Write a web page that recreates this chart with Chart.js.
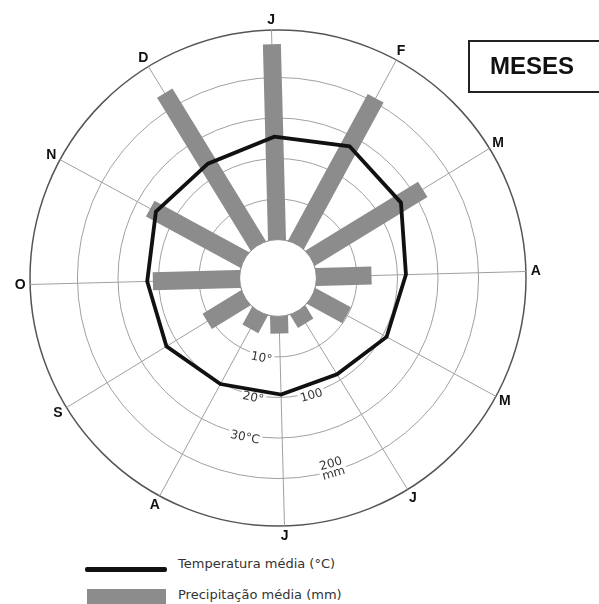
<!DOCTYPE html>
<html>
<head>
<meta charset="utf-8">
<title>Climograma</title>
<script src="https://cdn.jsdelivr.net/npm/chart.js@4.4.1/dist/chart.umd.min.js"></script>
<style>
  html, body { margin: 0; padding: 0; background: #fff; }
  body { width: 599px; height: 604px; position: relative; overflow: hidden; font-family: "DejaVu Sans", sans-serif; }
  #grafico { position: absolute; left: 8px; top: 8px; }
  .meses { position: absolute; left: 468px; top: 40px; width: 140px; height: 49px; border: 2px solid #222; }
  .meses span { position: absolute; left: 20px; top: 12px; font: bold 24px "Liberation Sans", Arial, sans-serif; line-height: 24px; color: #111; }
  .leg-linha { position: absolute; left: 85px; top: 567px; width: 82px; height: 5px; background: #111; border-radius: 2px; }
  .leg-barra { position: absolute; left: 87px; top: 589px; width: 79px; height: 16px; background: #8c8c8c; }
  .leg-txt { position: absolute; left: 178px; font-size: 13px; line-height: 16px; color: #333; white-space: nowrap; }
</style>
</head>
<body>
<canvas id="grafico" width="540" height="540"></canvas>
<div class="meses"><span>MESES</span></div>
<div class="leg-linha"></div>
<div class="leg-txt" style="top:556px">Temperatura média (°C)</div>
<div class="leg-barra"></div>
<div class="leg-txt" style="top:587px">Precipitação média (mm)</div>
<script>
const meses = ['J', 'F', 'M', 'A', 'M', 'J', 'J', 'A', 'S', 'O', 'N', 'D'];
const temperatura = [25.4, 27.5, 26.1, 22.1, 21.0, 18.4, 19.3, 20.3, 22.8, 22.8, 24.8, 23.6]; // °C
const precipitacao = [241, 205, 162, 68, 49, 18, 21, 24, 55, 107, 132, 220]; // mm

// anéis da escala
const ticksTemp = [10, 20, 30];
const rotulosTemp = ['10°', '20°', '30°C'];
const ticksChuva = [100, 200];
const rotulosChuva = [['100'], ['200', 'mm']];

const MM_POR_GRAU = 5;        // 100 mm ocupa o mesmo raio que 20 °C
const R_MIN = -9.47;          // valor no centro do círculo
const R_MAX = 51.7;           // valor no círculo externo
const corBarra = '#8c8c8c';

const climaPlugin = {
  id: 'clima',
  beforeDatasetsDraw(chart) {
    const r = chart.scales.r;
    const ctx = chart.ctx;
    ctx.save();

    // barras de precipitação
    const meta = chart.getDatasetMeta(1);
    ctx.strokeStyle = corBarra;
    ctx.lineWidth = 18;
    ctx.lineCap = 'butt';
    meta.data.forEach((pt, i) => {
      const base = r.getPointPositionForValue(i, -2);
      ctx.beginPath();
      ctx.moveTo(base.x, base.y);
      ctx.lineTo(pt.x, pt.y);
      ctx.stroke();
    });

    // círculo central branco
    const r0 = r.getDistanceFromCenterForValue(0);
    ctx.beginPath();
    ctx.arc(r.xCenter, r.yCenter, r0, 0, Math.PI * 2);
    ctx.fillStyle = '#fff';
    ctx.fill();
    ctx.strokeStyle = '#8a8a8a';
    ctx.lineWidth = 1;
    ctx.stroke();

    // rótulos dos anéis
    ctx.font = '12px "DejaVu Sans", sans-serif';
    ctx.textAlign = 'center';
    ctx.textBaseline = 'middle';
    const desenha = (linhas, idx, valor) => {
      const ang = r.getIndexAngle(idx) - Math.PI;
      const p = r.getPointPosition(idx, r.getDistanceFromCenterForValue(valor));
      const y0 = 3 - (linhas.length - 1) * 10;
      ctx.save();
      ctx.translate(p.x, p.y);
      ctx.rotate(ang);
      const w = Math.max(...linhas.map(t => ctx.measureText(t).width)) + 4;
      ctx.fillStyle = '#fff';
      ctx.fillRect(-w / 2, y0 - 6, w, linhas.length * 10 + 2);
      ctx.fillStyle = '#333';
      linhas.forEach((t, k) => ctx.fillText(t, 0, y0 + k * 10));
      ctx.restore();
    };
    ticksTemp.forEach((v, k) => desenha([rotulosTemp[k]], 6.44, v));
    ticksChuva.forEach((v, k) => desenha(rotulosChuva[k], 5.52, v / MM_POR_GRAU));

    ctx.restore();
  },
  afterDraw(chart) {
    // letras dos meses, centradas fora do círculo externo
    const r = chart.scales.r;
    const ctx = chart.ctx;
    ctx.save();
    ctx.font = 'bold 14px "Liberation Sans", Arial, sans-serif';
    ctx.fillStyle = '#111';
    ctx.textAlign = 'center';
    ctx.textBaseline = 'middle';
    chart.data.labels.forEach((m, i) => {
      const p = r.getPointPosition(i, r.drawingArea + 10);
      ctx.fillText(m, p.x, p.y);
    });
    ctx.restore();
  }
};

new Chart(document.getElementById('grafico'), {
  type: 'radar',
  data: {
    labels: meses,
    datasets: [
      {
        label: 'Temperatura média (°C)',
        data: temperatura,
        borderColor: '#111',
        backgroundColor: 'rgba(0,0,0,0)',
        borderWidth: 3.8,
        fill: false,
        pointRadius: 0,
        tension: 0
      },
      {
        label: 'Precipitação média (mm)',
        data: precipitacao.map(p => p / MM_POR_GRAU),
        showLine: false,
        fill: false,
        backgroundColor: 'rgba(0,0,0,0)',
        borderColor: 'rgba(0,0,0,0)',
        borderWidth: 0,
        pointRadius: 0
      }
    ]
  },
  options: {
    responsive: false,
    animation: false,
    events: [],
    layout: { padding: 22 },
    plugins: {
      legend: { display: false },
      tooltip: { enabled: false }
    },
    scales: {
      r: {
        min: R_MIN,
        max: R_MAX,
        startAngle: -1.5,
        afterBuildTicks: s => {
          s.ticks = [R_MIN, 0, 10, 20, 30, 40, R_MAX].map(v => ({ value: v }));
        },
        ticks: { display: false },
        grid: {
          circular: true,
          color: c => c.index === 0 ? 'rgba(0,0,0,0)' : (c.index === 6 ? '#555' : '#a0a0a0'),
          lineWidth: c => c.index === 6 ? 1.5 : 1
        },
        angleLines: { color: '#a0a0a0', lineWidth: 1 },
        pointLabels: { display: false }
      }
    }
  },
  plugins: [climaPlugin]
});
</script>
</body>
</html>
